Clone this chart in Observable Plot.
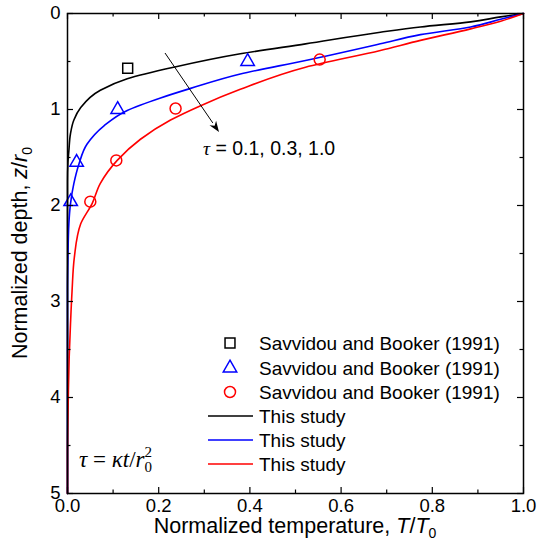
<!DOCTYPE html>
<html><head><meta charset="utf-8">
<script src="https://cdn.jsdelivr.net/npm/d3@7"></script>
<script src="https://cdn.jsdelivr.net/npm/@observablehq/plot@0.6"></script>
<style>body{margin:0;background:#fff} svg{display:block}</style>
</head><body><div id="chart"></div>
<script>
// tick values
const xTicks = [0, 0.2, 0.4, 0.6, 0.8, 1.0];
const xMinorTicks = [0.1, 0.3, 0.5, 0.7, 0.9];
const yTicks = [0, 1, 2, 3, 4, 5];
const yMinorTicks = [0.5, 1.5, 2.5, 3.5, 4.5];

// Savvidou and Booker (1991) points [T/T0, z/r0]
const refTau01 = [[0.132, 0.57]];
const refTau03 = [[0.395, 0.50], [0.110, 1.00], [0.020, 1.55], [0.007, 1.96]];
const refTau10 = [[0.553, 0.48], [0.237, 0.99], [0.107, 1.53], [0.050, 1.96]];

// This study curves [T/T0, z/r0]
const curveTau01 = [[1,0],[0.95,0.035],[0.884,0.087],[0.774,0.14],[0.686,0.195],[0.522,0.316],[0.379,0.42],[0.233,0.56],[0.131,0.68],[0.072,0.80],[0.029,0.98],[0.014,1.11],[0.0066,1.25],[0.003,1.43],[0.001,1.55],[0,1.75],[0,5]];
const curveTau03 = [[1,0],[0.95,0.06],[0.884,0.14],[0.774,0.22],[0.686,0.316],[0.522,0.49],[0.379,0.63],[0.27,0.78],[0.204,0.88],[0.131,1.01],[0.080,1.17],[0.043,1.36],[0.025,1.57],[0.014,1.77],[0.0066,1.98],[0.003,2.19],[0.001,2.54],[0,2.9],[0,5]];
const curveTau10 = [[1,0],[0.95,0.08],[0.884,0.16],[0.774,0.28],[0.686,0.385],[0.522,0.56],[0.379,0.79],[0.292,0.96],[0.226,1.11],[0.160,1.31],[0.109,1.53],[0.072,1.77],[0.054,1.98],[0.029,2.19],[0.015,2.54],[0.010,2.89],[0.0066,3.23],[0.0037,3.58],[0.002,3.93],[0.0007,4.27],[0,4.6],[0,5]];

const colors = ["#000000", "#0000ff", "#ff0000"];
const legendLabels = ["Savvidou and Booker (1991)", "Savvidou and Booker (1991)", "Savvidou and Booker (1991)", "This study", "This study", "This study"];

const toRows = a => a.map(([T, z]) => ({T, z}));

const W = 539, H = 558, mT = 13, mB = 65, mL = 67, mR = 16;
const fw = W - mL - mR, fh = H - mT - mB;
const lineOpts = c => ({x: "T", y: "z", stroke: c, strokeWidth: 1.6, curve: "monotone-y"});
const dotOpts = (c, s, r) => ({x: "T", y: "z", stroke: c, strokeWidth: 1.5, fill: "none", symbol: s, r});

const svg = Plot.plot({
  width: W, height: H,
  marginTop: mT, marginBottom: mB, marginLeft: mL, marginRight: mR,
  style: {fontFamily: "'Liberation Sans', Arial, sans-serif", background: "#fff", color: "#000"},
  x: {domain: [0, 1]},
  y: {domain: [0, 5], reverse: true},
  marks: [
    Plot.line(toRows(curveTau01), lineOpts(colors[0])),
    Plot.line(toRows(curveTau03), lineOpts(colors[1])),
    Plot.line(toRows(curveTau10), lineOpts(colors[2])),
    Plot.dot(toRows(refTau01), dotOpts(colors[0], "square", 5.6)),
    Plot.dot(toRows(refTau03), dotOpts(colors[1], "triangle", 5)),
    Plot.dot(toRows(refTau10), dotOpts(colors[2], "circle", 5.5)),
    // inward ticks, all four sides
    Plot.ruleX(xTicks, {x: d => d, insetTop: fh - 6, stroke: "#000", strokeWidth: 1.2}),
    Plot.ruleX(xMinorTicks, {x: d => d, insetTop: fh - 3.5, stroke: "#000", strokeWidth: 1.2}),
    Plot.ruleX(xTicks, {x: d => d, insetBottom: fh - 6, stroke: "#000", strokeWidth: 1.2}),
    Plot.ruleX(xMinorTicks, {x: d => d, insetBottom: fh - 3.5, stroke: "#000", strokeWidth: 1.2}),
    Plot.ruleY(yTicks, {y: d => d, insetRight: fw - 6, stroke: "#000", strokeWidth: 1.2}),
    Plot.ruleY(yMinorTicks, {y: d => d, insetRight: fw - 3.5, stroke: "#000", strokeWidth: 1.2}),
    Plot.ruleY(yTicks, {y: d => d, insetLeft: fw - 6, stroke: "#000", strokeWidth: 1.2}),
    Plot.ruleY(yMinorTicks, {y: d => d, insetLeft: fw - 3.5, stroke: "#000", strokeWidth: 1.2}),
    Plot.frame({stroke: "#000", strokeWidth: 1.5}),
    Plot.axisX(xTicks, {tickSize: 0, tickPadding: 5, tickFormat: d3.format(".1f"), fontSize: 18.5, label: null}),
    Plot.axisY(yTicks, {tickSize: 0, tickPadding: 7, tickFormat: d3.format("d"), fontSize: 18.5, label: null})
  ]
});
document.getElementById("chart").appendChild(svg);

const g = d3.select(svg).append("g")
  .attr("font-family", "'Liberation Sans', Arial, sans-serif")
  .attr("text-anchor", "start")
  .attr("fill", "#000");
const serif = "'Liberation Serif', 'Times New Roman', serif";

// x axis title
const xt = g.append("text").attr("x", mL + fw / 2).attr("y", 533).attr("text-anchor", "middle").attr("font-size", 21.5);
xt.append("tspan").text("Normalized temperature, ");
xt.append("tspan").attr("font-style", "italic").text("T");
xt.append("tspan").text("/");
xt.append("tspan").attr("font-style", "italic").text("T");
xt.append("tspan").attr("font-size", 14).attr("dy", 5).text("0");

// y axis title
const yt = g.append("text").attr("transform", `translate(27,${mT + fh / 2}) rotate(-90)`).attr("text-anchor", "middle").attr("font-size", 21.5);
yt.append("tspan").text("Normalized depth, ");
yt.append("tspan").attr("font-style", "italic").text("z");
yt.append("tspan").text("/");
yt.append("tspan").attr("font-style", "italic").text("r");
yt.append("tspan").attr("font-size", 14).attr("dy", 5).text("0");

// arrow annotation
const ax1 = 165, ay1 = 53, ax2 = 219, ay2 = 132;
const ang = Math.atan2(ay2 - ay1, ax2 - ax1), hl = 11, hw = 4;
const bx = ax2 - hl * Math.cos(ang), by = ay2 - hl * Math.sin(ang);
g.append("line").attr("x1", ax1).attr("y1", ay1).attr("x2", bx).attr("y2", by).attr("stroke", "#000").attr("stroke-width", 1);
g.append("path")
  .attr("d", `M${ax2},${ay2}L${bx - hw * Math.sin(ang)},${by + hw * Math.cos(ang)}L${ax2 - 0.7 * hl * Math.cos(ang)},${ay2 - 0.7 * hl * Math.sin(ang)}L${bx + hw * Math.sin(ang)},${by - hw * Math.cos(ang)}Z`)
  .attr("fill", "#000");
const at = g.append("text").attr("x", 203).attr("y", 155).attr("font-size", 19.5);
at.append("tspan").attr("font-family", serif).attr("font-style", "italic").text("τ");
at.append("tspan").text(" = 0.1, 0.3, 1.0");

// tau definition
const eq = g.append("text").attr("x", 79).attr("y", 467).attr("font-size", 23).attr("font-family", serif);
eq.append("tspan").attr("font-style", "italic").text("τ");
eq.append("tspan").text(" = ");
eq.append("tspan").attr("font-style", "italic").text("κt");
eq.append("tspan").text("/");
eq.append("tspan").attr("font-style", "italic").text("r");
eq.append("tspan").attr("font-size", 15).attr("dy", 5).text("0");
eq.append("tspan").attr("font-size", 15).attr("dx", -7.5).attr("dy", -15).text("2");

// legend
const symbols = [d3.symbolSquare, d3.symbolTriangle, d3.symbolCircle];
const radii = [5.6, 5, 5.5];
const rowY = [343, 368, 392, 416, 440, 464];
legendLabels.forEach((lab, i) => {
  const y = rowY[i];
  if (i < 3) {
    g.append("path").attr("transform", `translate(230,${y})`)
      .attr("d", d3.symbol(symbols[i], Math.PI * radii[i] * radii[i])())
      .attr("fill", "none").attr("stroke", colors[i]).attr("stroke-width", 1.5);
  } else {
    g.append("line").attr("x1", 208).attr("x2", 253).attr("y1", y).attr("y2", y)
      .attr("stroke", colors[i - 3]).attr("stroke-width", 1.6);
  }
  g.append("text").attr("x", 259).attr("y", y + 7).attr("font-size", 19).text(lab);
});
</script>
</body></html>
